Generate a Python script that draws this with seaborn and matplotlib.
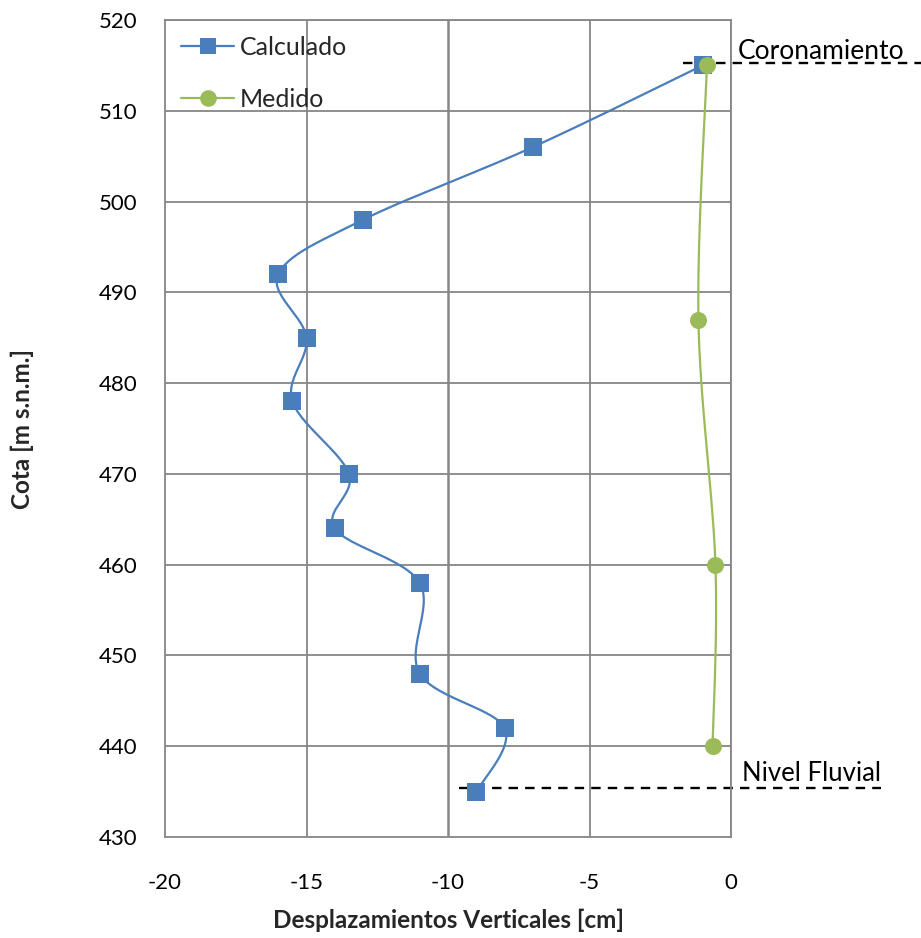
import numpy as np
import pandas as pd
import matplotlib
matplotlib.use("Agg")
import matplotlib.pyplot as plt
from matplotlib.lines import Line2D
import seaborn as sns

# ---- data ----
calc_x = [-1, -7, -13, -16, -15, -15.5, -13.5, -14, -11, -11, -8, -9]
calc_y = [515, 506, 498, 492, 485, 478, 470, 464, 458, 448, 442, 435]
med_x = [-0.85, -1.15, -0.55, -0.65]
med_y = [515, 487, 460, 440]
x_ticks = [-20, -15, -10, -5, 0]
y_ticks = [430, 440, 450, 460, 470, 480, 490, 500, 510, 520]
coron_y = 515.3
fluvial_y = 435.4

BLUE = "#4A7EBB"
GREEN = "#9BBB59"
GRID = "#868686"


def smooth(xs, ys, n=30):
    """Catmull-Rom style smoothing of a polyline (Excel 'smoothed line' look)."""
    P = np.column_stack([xs, ys]).astype(float)
    scale = np.array([28.3, 9.08])
    P = P * scale
    pts = [P[0]] + list(P) + [P[-1]]
    out = []
    for i in range(1, len(pts) - 2):
        p0, p1, p2, p3 = pts[i - 1], pts[i], pts[i + 1], pts[i + 2]
        for t in np.linspace(0, 1, n, endpoint=False):
            t2, t3 = t * t, t * t * t
            q = 0.5 * ((2 * p1) + (-p0 + p2) * t + (2 * p0 - 5 * p1 + 4 * p2 - p3) * t2
                       + (-p0 + 3 * p1 - 3 * p2 + p3) * t3)
            out.append(q)
    out.append(P[-1])
    out = np.array(out) / scale
    return out[:, 0], out[:, 1]


sns.set_theme(style="white")
plt.rcParams["font.family"] = ["Lato", "DejaVu Sans"]

fig = plt.figure(figsize=(9.21, 9.38), dpi=100)
ax = fig.add_axes([165 / 921, 101 / 938, 566 / 921, 817 / 938])

cx, cy = smooth(calc_x, calc_y)
mx, my = smooth(med_x, med_y)
df_cs = pd.DataFrame({"x": cx, "y": cy})
df_ms = pd.DataFrame({"x": mx, "y": my})
df_c = pd.DataFrame({"x": calc_x, "y": calc_y})
df_m = pd.DataFrame({"x": med_x, "y": med_y})

sns.lineplot(data=df_cs, x="x", y="y", sort=False, estimator=None, color=BLUE, lw=1.6, ax=ax, zorder=3)
sns.lineplot(data=df_ms, x="x", y="y", sort=False, estimator=None, color=GREEN, lw=1.6, ax=ax, zorder=3)
sns.scatterplot(data=df_c, x="x", y="y", marker="s", s=150, color=BLUE, edgecolor=BLUE, linewidth=0, ax=ax, zorder=4)
sns.scatterplot(data=df_m, x="x", y="y", marker="o", s=150, color=GREEN, edgecolor=GREEN, linewidth=0, ax=ax, zorder=4)

ax.set_xlim(-20, 0)
ax.set_ylim(430, 520)
ax.set_xticks(x_ticks)
ax.set_yticks(y_ticks)
ax.set_xticklabels([str(v) for v in x_ticks])
ax.set_yticklabels([str(v) for v in y_ticks])

for v in x_ticks[1:]:
    ax.axvline(v, color=GRID, lw=1.8 if v == -10 else 1.3, zorder=1)
for v in y_ticks[1:]:
    ax.axhline(v, color=GRID, lw=1.3, zorder=1)
for s in ax.spines.values():
    s.set_color(GRID)
    s.set_linewidth(1.3)

ax.tick_params(axis="both", colors="#000000", labelsize=16, direction="out", length=6, width=1.2)
ax.tick_params(axis="x", pad=20, color=GRID)
ax.tick_params(axis="y", pad=14, color=GRID)

ax.set_xlabel("Desplazamientos Verticales [cm]", fontsize=17.5, fontweight="bold")
ax.set_ylabel("Cota [m s.n.m.]", fontsize=17.5, fontweight="bold")
ax.xaxis.set_label_coords(0.5, -0.1016)
ax.yaxis.set_label_coords(-0.2527, 0.5)
ax.xaxis.label.set_va("center")
ax.yaxis.label.set_va("center")

# reference dashed lines
ax.plot([-1.7, 6.7], [coron_y, coron_y], ls=(0, (4, 3)), color="black", lw=1.7, clip_on=False, zorder=2)
ax.plot([-9.6, 5.3], [fluvial_y, fluvial_y], ls=(0, (4, 3)), color="black", lw=1.7, clip_on=False, zorder=2)
ax.text(0.25, 515.7, "Coronamiento", fontsize=19, ha="left", va="baseline", color="#000000")
ax.text(0.4, 436.2, "Nivel Fluvial", fontsize=18.5, ha="left", va="baseline", color="#000000")

handles = [
    Line2D([], [], color=BLUE, lw=1.6, marker="s", markersize=12, markeredgewidth=0),
    Line2D([], [], color=GREEN, lw=1.6, marker="o", markersize=12, markeredgewidth=0),
]
ax.legend(handles, ["Calculado", "Medido"], loc="upper left", bbox_to_anchor=(0.0, 1.0),
          frameon=False, fontsize=18, labelspacing=1.15, handlelength=2.1, handletextpad=0.25,
          borderaxespad=0.25)

fig.savefig("out.png", dpi=100)
